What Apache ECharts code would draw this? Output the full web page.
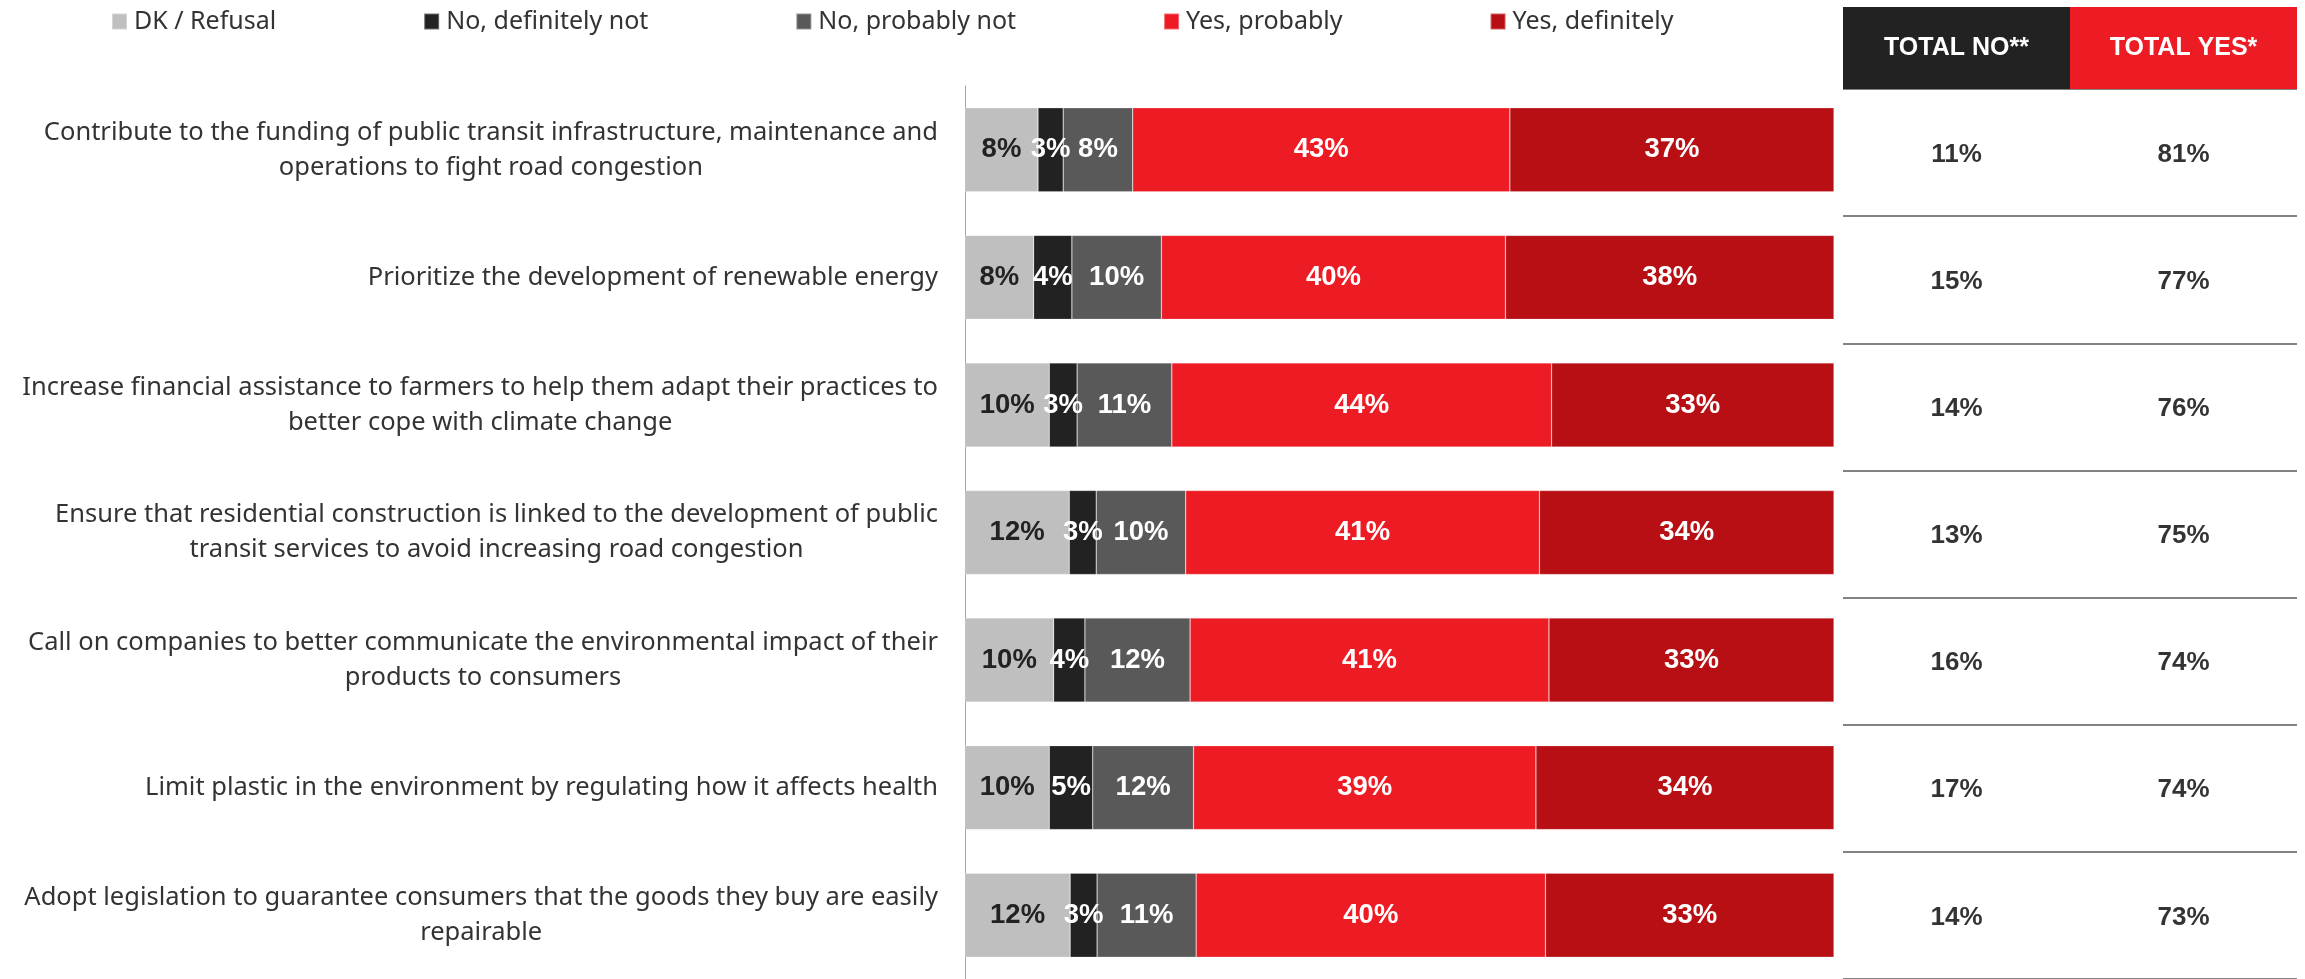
<!DOCTYPE html>
<html>
<head>
<meta charset="utf-8">
<script src="https://cdn.jsdelivr.net/npm/echarts@6/dist/echarts.min.js"></script>
<style>html,body{margin:0;padding:0;background:#fff;}#c{width:2305px;height:979px;}</style>
</head>
<body>
<div id="c"></div>
<script>
const categories = [
  'Contribute to the funding of public transit infrastructure, maintenance and\noperations to fight road congestion',
  'Prioritize the development of renewable energy',
  'Increase financial assistance to farmers to help them adapt their practices to\nbetter cope with climate change',
  'Ensure that residential construction is linked to the development of public\ntransit services to avoid increasing road congestion',
  'Call on companies to better communicate the environmental impact of their\nproducts to consumers',
  'Limit plastic in the environment by regulating how it affects health',
  'Adopt legislation to guarantee consumers that the goods they buy are easily\nrepairable'
];
const seriesNames = ['DK / Refusal', 'No, definitely not', 'No, probably not', 'Yes, probably', 'Yes, definitely'];
const dkRefusal     = [8.4, 7.9, 9.7, 12.0, 10.2, 9.7, 12.1];
const noDefinitely  = [2.9, 4.4, 3.2, 3.1, 3.6, 5.0, 3.1];
const noProbably    = [8.0, 10.3, 10.9, 10.3, 12.1, 11.6, 11.4];
const yesProbably   = [43.4, 39.6, 43.7, 40.7, 41.3, 39.4, 40.2];
const yesDefinitely = [37.3, 37.8, 32.5, 33.9, 32.8, 34.3, 33.2];
const tableHeaders = ['TOTAL NO**', 'TOTAL YES*'];
const totalNo  = [11, 15, 14, 13, 16, 17, 14];
const totalYes = [81, 77, 76, 75, 74, 74, 73];

const colors = ['#BFBFBF', '#222222', '#595959', '#ED1C24', '#B70F14'];
const labelColors = ['#222222', '#ffffff', '#ffffff', '#ffffff', '#ffffff'];
const values = [dkRefusal, noDefinitely, noProbably, yesProbably, yesDefinitely];
const FONT = "'Noto Sans', sans-serif";
const BOLD = "'Liberation Sans', Arial, sans-serif";

const chart = echarts.init(document.getElementById('c'), null, {renderer: 'canvas'});

const barSeries = seriesNames.map((name, k) => ({
  name: name,
  type: 'bar',
  stack: 'total',
  xAxisIndex: 0,
  yAxisIndex: 0,
  barWidth: 84,
  itemStyle: {color: colors[k], borderColor: 'rgba(255,255,255,0.35)', borderWidth: 0.6},
  label: {
    show: true,
    position: 'inside',
    color: labelColors[k],
    fontFamily: BOLD,
    fontWeight: 'bold',
    fontSize: 27.5,
    formatter: p => Math.round(p.value) + '%'
  },
  data: values[k]
}));

const tableSeries = [totalNo, totalYes].map((arr, col) => ({
  type: 'scatter',
  xAxisIndex: 1,
  yAxisIndex: 1,
  symbolSize: 0,
  silent: true,
  label: {
    show: true,
    position: 'inside',
    offset: [0, 2],
    color: '#000000',
    fontFamily: BOLD,
    fontWeight: 'bold',
    fontSize: 26,
    formatter: p => p.value[2] + '%'
  },
  data: arr.map((v, i) => [col, i, v])
}));

const option = {
  animation: false,
  backgroundColor: '#ffffff',
  legend: {
    data: seriesNames,
    left: 106,
    top: 4,
    itemWidth: 15,
    itemHeight: 16,
    itemGap: 147,
    icon: 'rect',
    textStyle: {fontFamily: FONT, fontSize: 25, color: '#333333', padding: [0, 0, 0, 2]},
    selectedMode: false
  },
  grid: [
    {left: 965, width: 869, top: 86, height: 897, containLabel: false},
    {left: 1843, width: 454, top: 89, height: 897, containLabel: false}
  ],
  xAxis: [
    {type: 'value', gridIndex: 0, min: 0, max: 100, show: false},
    {
      type: 'category', gridIndex: 1, data: tableHeaders, position: 'top',
      axisLine: {show: false}, axisTick: {show: false}, splitLine: {show: false},
      axisLabel: {
        margin: 0,
        interval: 0,
        formatter: (v, i) => '{h' + i + '|' + v + '}',
        rich: {
          h0: {width: 227, height: 82, lineHeight: 82, backgroundColor: '#222222', color: '#ffffff',
               fontFamily: BOLD, fontWeight: 'bold', fontSize: 25, align: 'center', verticalAlign: 'middle'},
          h1: {width: 227, height: 82, lineHeight: 82, backgroundColor: '#ED1C24', color: '#ffffff',
               fontFamily: BOLD, fontWeight: 'bold', fontSize: 25, align: 'center', verticalAlign: 'middle'}
        }
      }
    }
  ],
  yAxis: [
    {
      type: 'category', gridIndex: 0, data: categories, inverse: true,
      axisLine: {show: true, lineStyle: {color: '#A6A6A6', width: 1}},
      axisTick: {show: false},
      splitLine: {show: false},
      axisLabel: {
        margin: 27,
        interval: 0,
        formatter: v => v.split('\n').map(l => '{c|' + l + '}').join('\n'),
        rich: {c: {align: 'center', fontFamily: FONT, fontSize: 25.5, lineHeight: 35, color: '#333333'}}
      }
    },
    {
      type: 'category', gridIndex: 1, data: categories, inverse: true,
      axisLine: {show: false}, axisTick: {show: false}, axisLabel: {show: false},
      splitLine: {show: true, lineStyle: {color: '#595959', width: 1.5}}
    }
  ],
  series: barSeries.concat(tableSeries)
};
chart.setOption(option);
</script>
</body>
</html>
